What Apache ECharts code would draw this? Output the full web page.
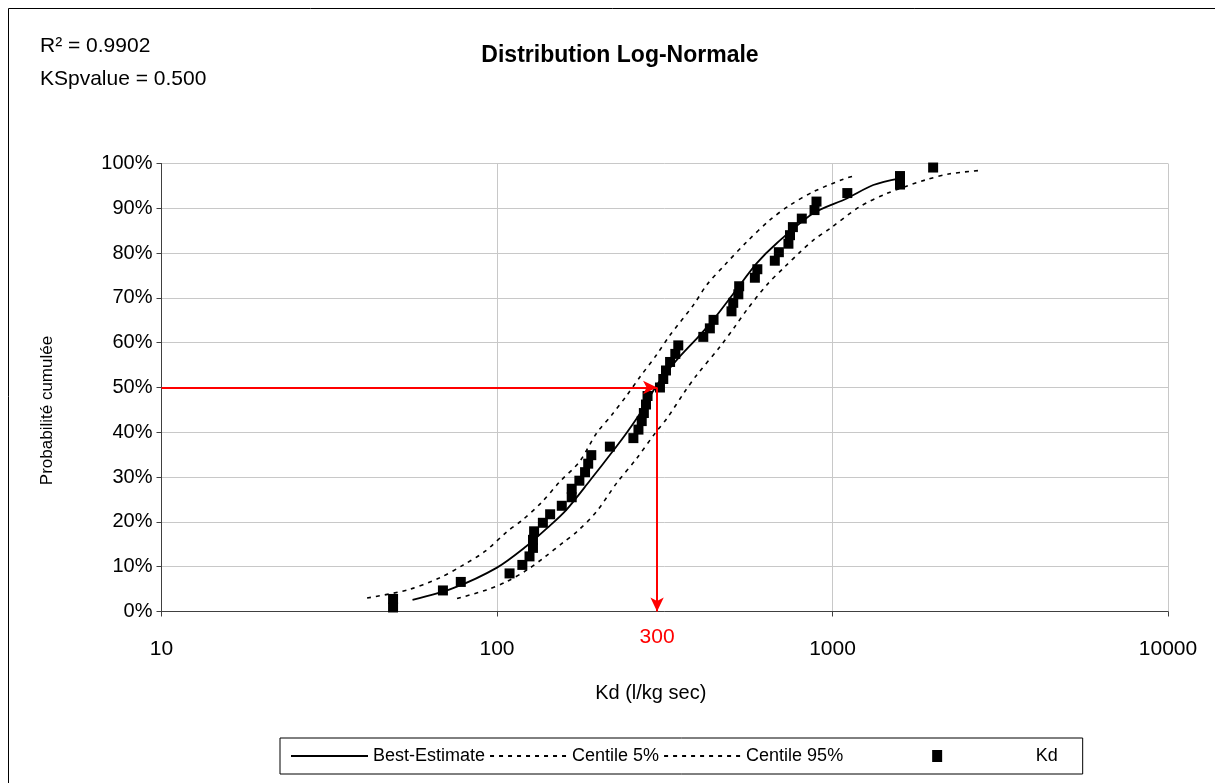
<!DOCTYPE html>
<html>
<head>
<meta charset="utf-8">
<script src="https://cdn.jsdelivr.net/npm/echarts@6/dist/echarts.min.js"></script>
<style>
  html, body { margin: 0; padding: 0; background: #fff; }
  #chart { width: 1215px; height: 783px; }
</style>
</head>
<body>
<div id="chart"></div>
<script>
// Kd observations (l/kg sec) and their cumulative probability (%)
const kdValues = [49, 49, 69, 78, 109, 119, 125, 128, 128, 129, 137, 144, 156, 167, 167, 176, 183, 187, 191, 217,
  255, 264, 270, 274, 278, 281, 306, 313, 319, 328, 340, 347, 412, 431, 442, 500, 506, 524, 527, 587,
  597, 673, 692, 739, 747, 762, 810, 884, 896, 1107, 1589, 1589, 1995];
const kdProb = [0.9, 2.8, 4.7, 6.6, 8.5, 10.4, 12.3, 14.2, 16.0, 17.9, 19.8, 21.7, 23.6, 25.5, 27.4, 29.2, 31.1, 33.0, 34.9, 36.8,
  38.7, 40.6, 42.5, 44.3, 46.2, 48.1, 50.0, 51.9, 53.8, 55.7, 57.5, 59.4, 61.3, 63.2, 65.1, 67.0, 68.9, 70.8, 72.6, 74.5,
  76.4, 78.3, 80.2, 82.1, 84.0, 85.8, 87.7, 89.6, 91.5, 93.4, 95.3, 97.2, 99.1];

// fitted curve (best estimate)
const bestX = [56, 74, 100, 122, 141, 161, 190, 221, 243, 271, 300, 343, 398, 441, 512, 594, 682, 877, 1103, 1323, 1589];
const bestP = [2.6, 5.2, 9.8, 14.5, 18.6, 22.7, 29.4, 35.7, 39.8, 45.0, 50.6, 56.1, 61.3, 65.1, 71.4, 77.7, 82.2, 88.9, 92.2, 95.2, 96.7];

// centile 5% (left band)
const c5X = [41, 54, 67, 79, 92, 107, 119, 136, 154, 176, 198, 220, 244, 267, 299, 328, 385, 422, 478, 555, 651, 747, 877, 1077, 1153];
const c5P = [3.0, 4.8, 7.4, 10.3, 13.4, 17.8, 20.4, 24.4, 29.0, 33.4, 39.8, 43.9, 48.3, 52.4, 57.3, 61.7, 68.4, 72.9, 77.4, 82.5, 87.4, 90.7, 93.7, 96.5, 97.2];

// centile 95% (right band)
const c95X = [76, 93, 107, 123, 139, 158, 173, 198, 227, 261, 296, 321, 363, 394, 462, 512, 555, 637, 722, 800, 877, 983, 1208, 1451, 1887, 2239, 2790];
const c95P = [2.9, 4.8, 6.7, 9.3, 12.2, 15.5, 17.8, 22.3, 28.6, 34.2, 39.8, 43.1, 49.1, 52.8, 59.1, 63.6, 67.3, 72.9, 77.0, 80.2, 82.9, 85.5, 90.4, 93.3, 96.3, 97.7, 98.5];

const yTicks = [0, 10, 20, 30, 40, 50, 60, 70, 80, 90, 100];
const readX = 300;
const readP = 50;

const font = 'Liberation Sans, Arial, sans-serif';
const zip = (xs, ys) => xs.map((x, i) => [x, ys[i]]);
const pad = n => ' '.repeat(n);

const chart = echarts.init(document.getElementById('chart'), null, { renderer: 'canvas' });

const dashLine = {
  color: '#000',
  width: 1.6,
  type: [4, 5]
};

// legend labels, padded so the Kd marker sits where the original puts it
const legendText = {
  'Best-Estimate': 'Best-Estimate',
  'Centile 5%': 'Centile 5%',
  'Centile 95%': 'Centile 95%' + pad(17),
  'Kd': pad(11) + 'Kd' + pad(3)
};

const option = {
  animation: false,
  backgroundColor: '#fff',
  textStyle: { fontFamily: font, color: '#000' },
  title: {
    text: 'Distribution Log-Normale',
    left: 615,
    textAlign: 'center',
    top: 39,
    textStyle: { fontFamily: font, fontSize: 23, fontWeight: 'bold', color: '#000' }
  },
  graphic: [
    {
      type: 'rect',
      shape: { x: 8.5, y: 8.5, width: 1220, height: 800 },
      style: { fill: 'none', stroke: '#000', lineWidth: 1 },
      silent: true
    },
    {
      type: 'text', left: 40, top: 36,
      style: { text: 'R² = 0.9902', fontFamily: font, fontSize: 21, fill: '#000' }
    },
    {
      type: 'text', left: 40, top: 69,
      style: { text: 'KSpvalue = 0.500', fontFamily: font, fontSize: 21, fill: '#000' }
    }
  ],
  legend: {
    left: 280,
    top: 738,
    padding: [9, 10],
    borderColor: '#000',
    borderWidth: 1,
    itemWidth: 77,
    itemHeight: 12,
    itemGap: 4,
    itemStyle: { opacity: 0 },
    textStyle: { fontFamily: font, fontSize: 18, color: '#000' },
    formatter: name => legendText[name],
    data: [
      { name: 'Best-Estimate' },
      { name: 'Centile 5%' },
      { name: 'Centile 95%' },
      { name: 'Kd', icon: 'path://M0,0H10V12H0Z', itemStyle: { opacity: 1, color: '#000' } }
    ]
  },
  grid: { left: 161.5, right: 47, top: 163.5, bottom: 171.5 },
  xAxis: {
    type: 'log',
    logBase: 10,
    min: 10,
    max: 10000,
    name: 'Kd (l/kg sec)',
    nameLocation: 'middle',
    nameGap: 72,
    nameTextStyle: { fontFamily: font, fontSize: 20, color: '#000', padding: [0, 28, 0, 0] },
    axisLine: { lineStyle: { color: '#404040', width: 1 } },
    axisTick: { show: true, inside: false, length: 5, lineStyle: { color: '#404040' } },
    axisLabel: { fontFamily: font, fontSize: 21, color: '#000', margin: 27, formatter: v => String(v) },
    splitLine: { show: true, lineStyle: { color: '#c8c8c8', width: 1 } },
    minorTick: { show: false },
    minorSplitLine: { show: false }
  },
  yAxis: {
    type: 'value',
    min: 0,
    max: 100,
    interval: 10,
    name: 'Probabilité cumulée',
    nameLocation: 'middle',
    nameGap: 106,
    nameTextStyle: { fontFamily: font, fontSize: 17, color: '#000', padding: [0, 46, 0, 0] },
    axisLine: { show: true, lineStyle: { color: '#404040', width: 1 } },
    axisTick: { show: true, length: 5, lineStyle: { color: '#404040' } },
    axisLabel: {
      fontFamily: font, fontSize: 20, color: '#000', margin: 9,
      formatter: v => yTicks.includes(v) ? v + '%' : ''
    },
    splitLine: { show: true, lineStyle: { color: '#c8c8c8', width: 1 } }
  },
  series: [
    {
      name: 'Best-Estimate',
      type: 'line',
      data: zip(bestX, bestP),
      smooth: 0.3,
      symbol: 'none',
      lineStyle: { color: '#000', width: 1.8 },
      itemStyle: { color: '#000' },
      z: 3
    },
    {
      name: 'Centile 5%',
      type: 'line',
      data: zip(c5X, c5P),
      smooth: 0.3,
      symbol: 'none',
      lineStyle: dashLine,
      itemStyle: { color: '#000' },
      z: 3
    },
    {
      name: 'Centile 95%',
      type: 'line',
      data: zip(c95X, c95P),
      smooth: 0.3,
      symbol: 'none',
      lineStyle: dashLine,
      itemStyle: { color: '#000' },
      z: 3
    },
    {
      name: 'Kd',
      type: 'scatter',
      data: zip(kdValues, kdProb),
      symbol: 'rect',
      symbolSize: [10, 10],
      itemStyle: { color: '#000', opacity: 1 },
      z: 4,
      markLine: {
        silent: true,
        symbol: ['none', 'arrow'],
        symbolSize: [10, 14],
        lineStyle: { color: '#ff0000', width: 2, type: 'solid' },
        emphasis: { disabled: true },
        data: [
          [
            { coord: [10, readP], label: { show: false } },
            { coord: [readX, readP] }
          ],
          [
            {
              coord: [readX, readP],
              label: {
                show: true, position: 'end', formatter: String(readX),
                fontFamily: font, fontSize: 21, color: '#ff0000', distance: 15
              }
            },
            { coord: [readX, 0] }
          ]
        ]
      }
    }
  ]
};

chart.setOption(option);
window.addEventListener('resize', () => chart.resize());
</script>
</body>
</html>
